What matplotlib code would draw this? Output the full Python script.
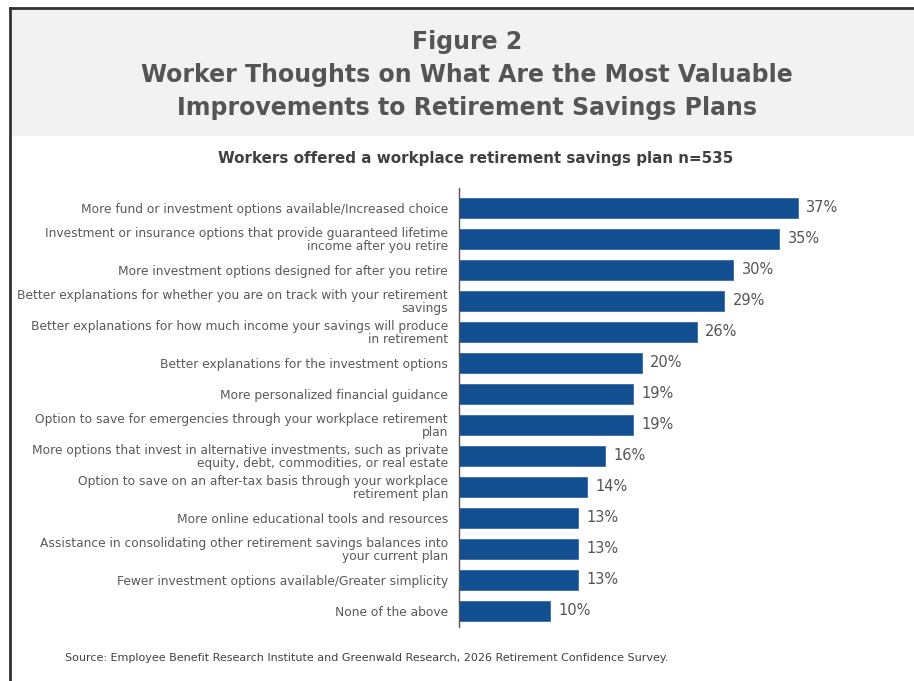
import matplotlib
matplotlib.use("Agg")
import matplotlib.pyplot as plt
from matplotlib.patches import Rectangle
from matplotlib.lines import Line2D

plt.rcParams['font.family'] = ['DejaVu Sans']

categories = [
    "More fund or investment options available/Increased choice",
    "Investment or insurance options that provide guaranteed lifetime\nincome after you retire",
    "More investment options designed for after you retire",
    "Better explanations for whether you are on track with your retirement\nsavings",
    "Better explanations for how much income your savings will produce\nin retirement",
    "Better explanations for the investment options",
    "More personalized financial guidance",
    "Option to save for emergencies through your workplace retirement\nplan",
    "More options that invest in alternative investments, such as private\nequity, debt, commodities, or real estate",
    "Option to save on an after-tax basis through your workplace\nretirement plan",
    "More online educational tools and resources",
    "Assistance in consolidating other retirement savings balances into\nyour current plan",
    "Fewer investment options available/Greater simplicity",
    "None of the above",
]
values = [37, 35, 30, 29, 26, 20, 19, 19, 16, 14, 13, 13, 13, 10]

title = "Figure 2\nWorker Thoughts on What Are the Most Valuable\nImprovements to Retirement Savings Plans"
subtitle = "Workers offered a workplace retirement savings plan n=535"
source = "Source: Employee Benefit Research Institute and Greenwald Research, 2026 Retirement Confidence Survey."

W, H = 914, 681
fig = plt.figure(figsize=(W / 100, H / 100), dpi=100)
fig.patch.set_facecolor("white")

# header band and frame
fig.patches.append(Rectangle((11 / W, 1 - 136 / H), 1, 128 / H, transform=fig.transFigure,
                             facecolor="#f2f2f2", edgecolor="none", zorder=0))
fig.lines.append(Line2D([10 / W, 1], [1 - 7.5 / H] * 2, transform=fig.transFigure, color="#333333", lw=2))
fig.lines.append(Line2D([10 / W] * 2, [0, 1 - 7.5 / H], transform=fig.transFigure, color="#333333", lw=2))

fig.text(467 / W, 1 - 75 / H, title, ha="center", va="center", fontsize=17, fontweight="bold",
         color="#555555", linespacing=1.45)
fig.text(476 / W, 1 - 158 / H, subtitle, ha="center", va="center", fontsize=10.9,
         fontweight="bold", color="#404040")
fig.text(65 / W, 1 - 658 / H, source, ha="left", va="center", fontsize=8.0, color="#404040")

# axes: 0% at x=459, 9.15 px per percent
x0, x1 = 459, 880
y_top, y_bot = 188, 627
ax = fig.add_axes([x0 / W, 1 - y_bot / H, (x1 - x0) / W, (y_bot - y_top) / H])
ax.set_facecolor("none")

ypos = list(range(len(values)))
ax.barh(ypos, values, height=0.65, color="#124f91", edgecolor="#3a6aa8", linewidth=0.6)
ax.set_xlim(0, (x1 - x0) / 9.15)
ax.set_ylim(13.52, -0.645)

for y, v in zip(ypos, values):
    ax.text(v + 0.9, y, f"{v}%", va="center", ha="left", fontsize=10.5, color="#555555")

ax.set_yticks(ypos)
ax.set_yticklabels(categories, fontsize=8.8, color="#595959", linespacing=1.0)
ax.tick_params(axis="y", length=0, pad=8)
ax.set_xticks([])
for s in ["top", "right", "bottom"]:
    ax.spines[s].set_visible(False)
ax.spines["left"].set_color("#555555")
ax.spines["left"].set_linewidth(1.0)

fig.savefig("out.png", dpi=100)
